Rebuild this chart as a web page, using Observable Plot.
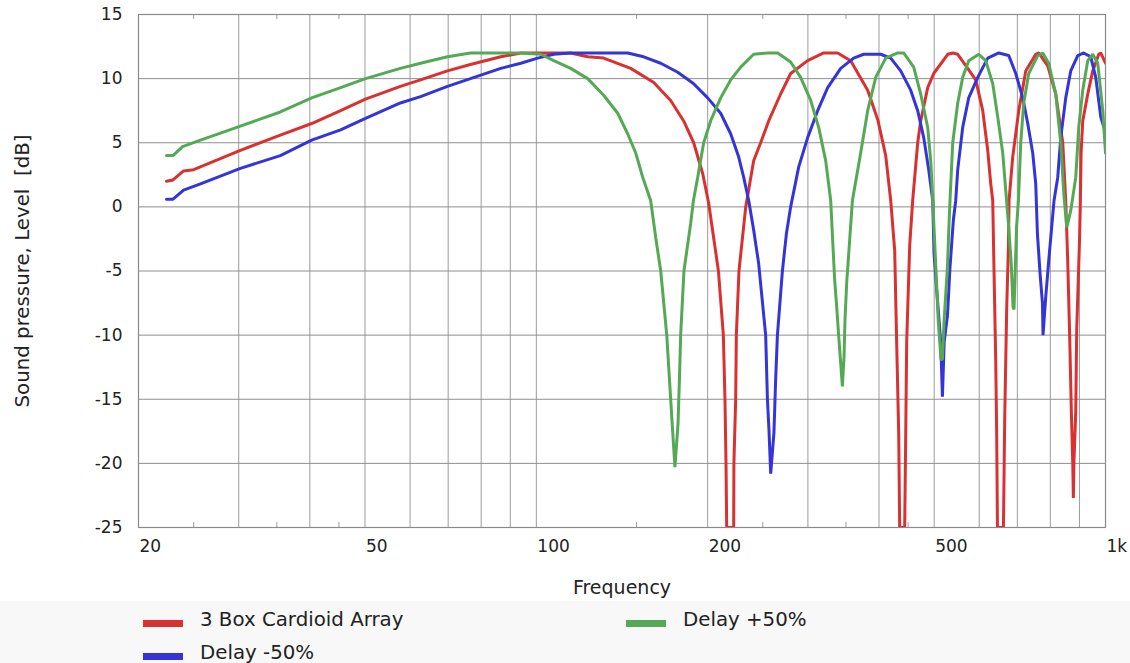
<!DOCTYPE html>
<html>
<head>
<meta charset="utf-8">
<script src="https://cdn.jsdelivr.net/npm/d3@7"></script>
<script src="https://cdn.jsdelivr.net/npm/@observablehq/plot@0.6"></script>
<style>
  html, body { margin: 0; padding: 0; background: #ffffff; }
  body { font-family: "DejaVu Sans", Verdana, sans-serif; color: #222; }
  #chart svg { display: block; }
  #legend { position: relative; width: 1130px; height: 62px; background: #f8f8f8; }
  #legend .swatch { position: absolute; width: 40px; height: 7px; }
  #legend .label { position: absolute; font-size: 19.8px; line-height: 24px; white-space: nowrap; color: #222; }
</style>
</head>
<body>
<div id="chart"></div>
<div id="legend"></div>
<script>
// Series names and colours
const seriesNames = ["3 Box Cardioid Array", "Delay -50%", "Delay +50%"];
const seriesColors = ["#d93131", "#3434d8", "#55a955"];

// Frequency response, [frequency in Hz, level in dB]
const cardioidArray = [
  [22.4, 2.0], [23.0, 2.1], [24.0, 2.8], [25.0, 2.9], [30.2, 4.4], [35.5, 5.6], [40.3, 6.5], [45.3, 7.5],
  [50.1, 8.4], [57.7, 9.4], [62.6, 9.9], [69.8, 10.6], [76.6, 11.1], [86.6, 11.7], [93.9, 12.0], [114.9, 12.0],
  [123.1, 11.7], [131.3, 11.6], [146.5, 10.8], [160.8, 9.7], [172.2, 8.3], [181.5, 6.7], [189.0, 5.0], [196.0, 2.6],
  [200.8, 0.3], [208.9, -5], [213.1, -10], [214.5, -15], [215.4, -20], [216.0, -25], [222.2, -25], [222.4, -20],
  [224.0, -15], [224.6, -10], [227.0, -5], [233.3, 0], [240.9, 3.6], [247.8, 5.0], [256.0, 6.7], [268.7, 8.8],
  [279.8, 10.4], [299.7, 11.4], [319.8, 12.0], [338.4, 12.0], [356.7, 11.4], [382.1, 9.1], [398.0, 6.8], [411.0, 4.0],
  [419.4, 0.5], [426.2, -3.4], [429.7, -10.7], [433.2, -17.7], [434.9, -25], [443.8, -25], [445.6, -18.0], [447.4, -10.5],
  [452.9, -3.0], [458.4, 0.5], [467.8, 5.0], [473.5, 6.7], [487.1, 9.3], [499.1, 10.4], [528.2, 11.9], [539.0, 12.0],
  [550.0, 11.9], [572.7, 10.8], [591.6, 9.9], [608.6, 7.5], [621.0, 4.4], [628.6, 1.8], [633.7, 0.5], [637.0, -5],
  [641.4, -12], [644.0, -18], [645.9, -25], [661.7, -25], [665.2, -16.4], [670.6, -7.8], [675.3, -3.0], [676.9, 0.5],
  [687.1, 3.9], [704.0, 7.5], [724.2, 10.6], [754.1, 11.9], [763.3, 12.0], [791.6, 11.0], [817.7, 8.8], [841.2, 5.0],
  [851.4, 0.5], [858.0, -4], [865.0, -10], [871.0, -16], [876.0, -20], [878.0, -22.7], [880.0, -20], [886.6, -16],
  [890.0, -9.6], [900.0, -2.8], [903.0, 0], [906.0, 4.2], [912.1, 6.7], [930.7, 8.8], [949.7, 10.6], [973.1, 11.9],
  [981.0, 12.0], [1000, 11.2]
];

const delayMinus50 = [
  [22.4, 0.6], [23.0, 0.6], [24.0, 1.3], [25.7, 1.8], [30.2, 3.0], [35.5, 4.0], [40.3, 5.2], [45.3, 6.0],
  [50.1, 6.9], [57.7, 8.1], [62.6, 8.6], [69.8, 9.4], [76.6, 10.0], [86.6, 10.8], [93.9, 11.2], [100.5, 11.6],
  [107.3, 11.9], [114.9, 12.0], [144.7, 12.0], [154.4, 11.7], [165.4, 11.2], [177.2, 10.5], [189.0, 9.6], [200.0, 8.5],
  [210.8, 7.3], [219.5, 5.7], [226.7, 3.9], [231.4, 2.3], [236.1, 0.5], [240.9, -1.8], [245.8, -4.4], [252.9, -10],
  [254.7, -15], [256.3, -17.4], [258.1, -20.8], [261.5, -17.6], [263.3, -13.5], [265.2, -10], [270.6, -5], [275.0, -2.1],
  [279.8, 0.0], [289.0, 3.1], [299.7, 5.4], [312.1, 7.5], [325.0, 9.3], [342.6, 10.8], [361.0, 11.6], [376.0, 11.9],
  [402.7, 11.9], [419.4, 11.6], [436.7, 10.6], [454.7, 9.1], [467.8, 7.5], [479.3, 5.4], [489.1, 2.9], [497.1, 0.5],
  [499.7, -3.6], [505.2, -6.5], [513.4, -10.5], [517.0, -14.8], [520.7, -10.5], [527.6, -8.5], [533.1, -4.7], [540.5, -1.0],
  [545.6, 0.5], [550.0, 2.9], [561.2, 6.2], [575.0, 8.5], [596.4, 10.1], [621.0, 11.6], [649.3, 12.0], [676.1, 11.8],
  [695.5, 10.4], [715.5, 8.5], [730.1, 6.5], [745.0, 4.2], [754.1, 1.8], [759.3, -2.1], [767.4, -5.2], [774.9, -7.5],
  [776.7, -10.0], [785.3, -7.0], [795.8, -3.9], [803.6, -1.8], [812.1, 0.5], [824.3, 2.3], [834.4, 5.4], [851.4, 8.5],
  [868.8, 10.6], [893.8, 11.8], [915.8, 12.0], [942.1, 11.7], [961.3, 10.1], [981.0, 7.0], [1000, 5.8]
];

const delayPlus50 = [
  [22.4, 4.0], [23.0, 4.0], [23.9, 4.7], [25.7, 5.2], [30.2, 6.3], [35.5, 7.4], [40.3, 8.5], [45.3, 9.3],
  [50.1, 10.0], [57.7, 10.8], [62.6, 11.2], [69.8, 11.7], [76.6, 12.0], [93.9, 12.0], [101.8, 11.9], [107.3, 11.4],
  [114.9, 10.8], [123.1, 10.0], [131.3, 8.7], [139.0, 7.3], [144.7, 5.7], [149.5, 4.2], [153.8, 2.3], [158.8, 0.5],
  [162.1, -2.4], [165.4, -5], [169.5, -10], [172.2, -15], [174.1, -18.4], [175.2, -20.3], [177.4, -16.9], [178.4, -13.5],
  [179.3, -10], [181.7, -5], [186.7, -1.3], [188.8, 0.5], [192.1, 2.3], [196.8, 5.0], [202.4, 6.7], [210.8, 8.5],
  [219.5, 9.9], [228.6, 10.9], [240.9, 11.9], [255.0, 12.0], [265.5, 12.0], [279.8, 11.3], [291.3, 10.1], [303.4, 8.3],
  [313.4, 6.2], [322.4, 3.6], [329.0, 0.5], [331.2, -2.1], [334.3, -5.7], [337.1, -7.8], [340.2, -10.4], [342.6, -12.2],
  [344.9, -14.0], [347.2, -11.7], [348.6, -8.8], [351.0, -5.9], [354.2, -3.4], [359.2, 0.5], [371.4, 4.2], [382.1, 7.5],
  [394.7, 10.1], [411.0, 11.6], [431.4, 12.0], [442.0, 12.0], [460.3, 10.9], [473.5, 8.8], [487.1, 6.2], [493.1, 3.6],
  [497.1, 0.6], [503.1, -4.5], [508.5, -9.0], [514.0, -11.9], [517.0, -11.9], [520.3, -9.0], [527.6, -4.7], [531.0, -1.3],
  [533.1, 0.5], [539.0, 5.0], [550.0, 8.1], [561.2, 10.1], [575.0, 11.4], [598.8, 11.9], [616.0, 11.4], [633.7, 9.6],
  [646.7, 7.0], [659.9, 4.2], [667.9, 1.3], [676.1, -1.6], [683.0, -4.5], [688.0, -7.8], [690.7, -8.0], [694.0, -5.0],
  [698.0, -1.5], [703.2, 0.5], [709.7, 5.0], [718.4, 8.1], [733.1, 10.4], [760.3, 11.8], [775.8, 12.0], [794.8, 11.2],
  [817.7, 8.8], [834.4, 5.0], [844.6, 1.1], [854.9, -1.6], [868.8, -0.3], [886.6, 2.3], [897.4, 6.2], [912.1, 9.1],
  [930.7, 11.4], [949.7, 11.9], [969.1, 11.2], [989.0, 7.5], [1000, 4.2]
];

// Axis ticks and grid positions
const xTickValues = [20, 50, 100, 200, 500, 1000];
const xTickLabels = ["20", "50", "100", "200", "500", "1k"];
const xGridValues = [30, 40, 50, 60, 70, 80, 90, 100, 200, 300, 400, 500, 600, 700, 800, 900];
const xMinorTicks = [25, 35, 45, 150, 250, 350, 450];
const yTickValues = [-25, -20, -15, -10, -5, 0, 5, 10, 15];
const yGridValues = [-20, -15, -10, -5, 0, 5, 10];

const xLabel = "Frequency";
const yLabel = "Sound pressure, Level\u00a0 [dB]";

// Long-format table for the line mark
const seriesData = [cardioidArray, delayMinus50, delayPlus50];
const rows = seriesData.flatMap((pts, i) => pts.map(([f, db]) => ({series: seriesNames[i], f, db})));

const W = 1130, H = 601;
const M = {top: 14, right: 25, bottom: 74, left: 138};
const plotH = H - M.top - M.bottom;
const font = "DejaVu Sans, Verdana, sans-serif";
const gridColor = "#9c9c9c";

const chart = Plot.plot({
  width: W,
  height: H,
  marginTop: M.top,
  marginRight: M.right,
  marginBottom: M.bottom,
  marginLeft: M.left,
  style: {fontFamily: font, fontSize: "17px", color: "#222", background: "transparent"},
  x: {type: "log", domain: [20, 1000]},
  y: {domain: [-25, 15]},
  color: {domain: seriesNames, range: seriesColors},
  marks: [
    Plot.ruleX(xGridValues, {stroke: gridColor, strokeWidth: 1}),
    Plot.ruleY(yGridValues, {stroke: "#8e8e8e", strokeWidth: 1}),
    // short minor ticks along the bottom and top edges
    Plot.ruleX(xMinorTicks, {stroke: gridColor, insetTop: plotH - 5}),
    Plot.ruleX(xMinorTicks, {stroke: gridColor, insetBottom: plotH - 5}),
    Plot.frame({stroke: "#8a8a8a", strokeWidth: 1.2}),
    Plot.line(rows, {x: "f", y: "db", z: "series", stroke: "series", strokeWidth: 3, strokeLinejoin: "miter", clip: true}),
    Plot.axisX({
      ticks: xTickValues,
      tickFormat: (d) => xTickLabels[xTickValues.indexOf(d)],
      tickSize: 0,
      tickPadding: 12,
      textAnchor: "start",
      dx: 1,
      fontSize: 17,
      label: null
    }),
    Plot.axisY({ticks: yTickValues, tickFormat: (d) => String(d), tickSize: 0, tickPadding: 16, fontSize: 17, label: null}),
    Plot.text([xLabel], {frameAnchor: "bottom", dy: 66, fontSize: 19, fill: "#222"}),
    Plot.text([yLabel], {frameAnchor: "left", dx: -116, rotate: -90, textAnchor: "middle", fontSize: 19.8, fill: "#222"})
  ]
});
document.getElementById("chart").append(chart);

// Legend below the chart
const legendItems = [
  {name: seriesNames[0], color: seriesColors[0], left: 143, top: 19},
  {name: seriesNames[2], color: seriesColors[2], left: 626, top: 19},
  {name: seriesNames[1], color: seriesColors[1], left: 143, top: 52}
];
const legend = d3.select("#legend");
for (const item of legendItems) {
  legend.append("div").attr("class", "swatch")
    .style("left", item.left + "px").style("top", item.top + "px").style("background", item.color);
  legend.append("div").attr("class", "label")
    .style("left", (item.left + 57) + "px").style("top", (item.top - 12) + "px").text(item.name);
}
</script>
</body>
</html>
